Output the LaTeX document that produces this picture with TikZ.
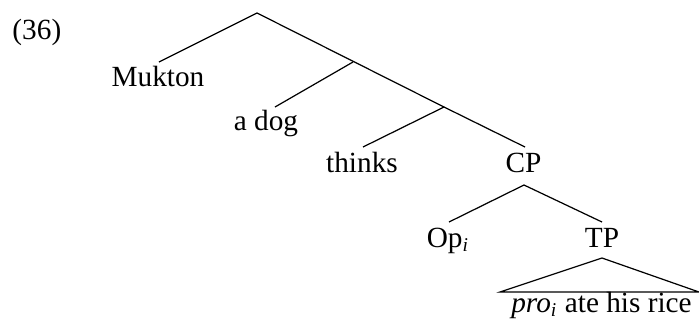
\documentclass[tikz,border=0pt]{standalone}
\usepackage{fontspec}
\setmainfont{Liberation Serif}
\begin{document}
\begin{tikzpicture}[x=0.41pt,y=-0.41pt,
  lbl/.style={anchor=base,inner sep=0pt,font=\fontsize{12}{14}\selectfont},
  br/.style={line width=0.5pt}]
\useasboundingbox (0,0) rectangle (699,323);
\node[lbl,anchor=base west] (ex) at (12,39) {(36)};
% tree points
\coordinate (R) at (257,13);
\coordinate (N1) at (353,62);
\coordinate (N2) at (444,107);
\coordinate (eM) at (159,62);
\coordinate (eD) at (275,107);
\coordinate (eT) at (363,147);
\coordinate (eC) at (525,147);
\coordinate (sC) at (524,185);
\coordinate (eO) at (449,222);
\coordinate (eP) at (602,222);
\coordinate (sP) at (602,258);
\coordinate (bL) at (500,292);
\coordinate (bR) at (699,292);
% labels
\node[lbl] (muk) at (158,86) {Mukton};
\node[lbl] (dog) at (266,130) {a dog};
\node[lbl] (thk) at (362,172) {thinks};
\node[lbl] (cp) at (523.5,172) {CP};
\node[lbl] (op) at (448,247) {Op\textsubscript{\itshape i}};
\node[lbl] (tp) at (602,247) {TP};
\node[lbl] (pro) at (601.5,312) {\textit{pro}\textsubscript{\itshape i} ate his rice};
% branches
\draw[br] (eM) -- (R) -- (N2);
\draw[br] (eD) -- (N1);
\draw[br] (eT) -- (N2) -- (eC);
\draw[br] (eO) -- (sC) -- (eP);
\draw[br] (sP) -- (bL) -- (bR) -- cycle;
\end{tikzpicture}
\end{document}
